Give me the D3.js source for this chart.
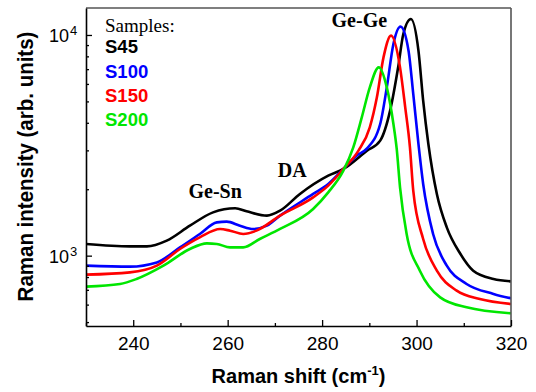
<!DOCTYPE html>
<html>
<head>
<meta charset="utf-8">
<script src="https://cdn.jsdelivr.net/npm/d3@7"></script>
<style>
  body { margin: 0; background: #fff; }
  svg { display: block; }
</style>
</head>
<body>
<div id="chart"></div>
<script>

// Raman spectra (wavenumber in cm-1, intensity in arb. units)
var sampleNames = ["S45", "S100", "S150", "S200"];
var sampleColors = ["#000000", "#0000ff", "#ff0000", "#00e600"];

var shiftS45 = [230, 239.3, 242.9, 247.1, 252.0, 256.9, 261.6, 264.0, 268.3, 271.1, 275.3, 281.3, 284.5, 289.5, 292.3, 294.4, 296.1, 297.2, 298.8, 300.4, 301.4, 302.5, 304.3, 306.4, 309.2, 312.0, 316.3, 320];
var intS45 = [1130, 1102, 1102, 1170, 1367, 1571, 1640, 1588, 1518, 1599, 1904, 2304, 2471, 2990, 3320, 4540, 7134, 10104, 11815, 8489, 5040, 3207, 1904, 1344, 1025, 855, 784, 765];

var shiftS100 = [230, 239.3, 245.0, 249.9, 254.1, 257.7, 259.8, 262.6, 265.4, 268.3, 271.1, 278.1, 281.3, 284.5, 287.3, 289.4, 292.3, 293.7, 295.1, 296.6, 298.3, 299.3, 300.4, 301.4, 303.5, 306.4, 310.6, 316.3, 320];
var intS100 = [901, 892, 932, 1090, 1254, 1415, 1426, 1367, 1321, 1367, 1518, 1904, 2113, 2471, 2839, 3044, 3951, 5789, 9104, 10905, 8489, 5403, 3207, 2113, 1254, 901, 744, 671, 640];

var shiftS150 = [230, 239.3, 245.0, 249.9, 254.1, 258.4, 260.5, 263.3, 266.1, 271.1, 278.1, 281.3, 284.5, 287.7, 290.1, 291.6, 293.0, 294.6, 296.5, 297.6, 298.6, 299.3, 301.4, 304.3, 308.5, 313.4, 320];
var intS150 = [820, 840, 901, 1072, 1210, 1321, 1298, 1254, 1298, 1518, 1837, 2076, 2471, 2991, 3814, 5216, 7914, 9927, 7134, 4699, 3095, 1970, 1190, 855, 694, 636, 604];

var shiftS200 = [230, 237.2, 240.7, 246.4, 252.0, 255.6, 257.7, 260.5, 263.3, 266.8, 271.1, 278.1, 281.3, 284.5, 286.6, 288.4, 290.1, 292.0, 293.7, 295.1, 295.8, 296.5, 297.9, 300.7, 305.0, 310.6, 320];
var intS200 = [724, 744, 784, 901, 1072, 1137, 1130, 1090, 1090, 1190, 1321, 1628, 1935, 2427, 3095, 4233, 5789, 7134, 5789, 3951, 3044, 2040, 1254, 855, 647, 583, 548];

var xTicks = [240, 260, 280, 300, 320];
var xMinorTicks = [230, 250, 270, 290, 310];
var yTicks = [1000, 10000];
var yMinorTicks = [500, 600, 700, 800, 900, 2000, 3000, 4000, 5000, 6000, 7000, 8000, 9000];

var peakLabels = [
    { text: "Ge-Ge", x: 282.0, y: 10900 },
    { text: "Ge-Sn", x: 251.7, y: 1820 },
    { text: "DA", x: 270.6, y: 2280 }
];

var seriesList = [
    { name: sampleNames[0], color: sampleColors[0], xs: shiftS45, ys: intS45 },
    { name: sampleNames[1], color: sampleColors[1], xs: shiftS100, ys: intS100 },
    { name: sampleNames[2], color: sampleColors[2], xs: shiftS150, ys: intS150 },
    { name: sampleNames[3], color: sampleColors[3], xs: shiftS200, ys: intS200 }
];


var svgWidth = 536, svgHeight = 392;
var margin = {top: 8, right: 25, bottom: 66, left: 86};
var width = svgWidth - margin.left - margin.right;
var height = svgHeight - margin.top - margin.bottom;

var sansFont = "'Liberation Sans', Arial, sans-serif";
var serifFont = "'Liberation Serif', 'Times New Roman', serif";

var svg = d3.select("#chart").append("svg")
    .attr("width", svgWidth)
    .attr("height", svgHeight);

var g = svg.append("g")
    .attr("transform", "translate(" + margin.left + "," + margin.top + ")");

var x = d3.scaleLinear().domain([230, 320]).range([0, width]);
var y = d3.scaleLog().domain([480, 13250]).range([height, 0]);

g.append("clipPath")
    .attr("id", "plotClip")
    .append("rect")
    .attr("width", width)
    .attr("height", height);

// spectra
var line = d3.line()
    .x(function(d) { return x(d[0]); })
    .y(function(d) { return y(d[1]); })
    .curve(d3.curveMonotoneX);

seriesList.forEach(function(s) {
    var pts = s.xs.map(function(v, i) { return [v, s.ys[i]]; });
    g.append("path")
        .datum(pts)
        .attr("clip-path", "url(#plotClip)")
        .attr("fill", "none")
        .attr("stroke", s.color)
        .attr("stroke-width", 2.6)
        .attr("stroke-linejoin", "round")
        .attr("d", line);
});

// frame (top and right in grey)
g.append("line")
    .attr("x1", 0).attr("x2", width).attr("y1", 0).attr("y2", 0)
    .attr("stroke", "#555").attr("stroke-width", 1.6);
g.append("line")
    .attr("x1", width).attr("x2", width).attr("y1", 0).attr("y2", height)
    .attr("stroke", "#555").attr("stroke-width", 1.6);

// bottom axis, ticks pointing inward
var xAxis = g.append("g")
    .attr("transform", "translate(0," + height + ")")
    .call(d3.axisBottom(x).tickValues(xTicks).tickSize(-6).tickPadding(11).tickSizeOuter(0));
xAxis.select(".domain").attr("stroke", "#000").attr("stroke-width", 1.6);
xAxis.selectAll(".tick line").attr("stroke-width", 1.3);
xAxis.selectAll("text")
    .attr("dy", "0.71em")
    .style("font-family", sansFont)
    .style("font-size", "19px")
    .attr("fill", "#000");

g.append("g")
    .attr("transform", "translate(0," + height + ")")
    .call(d3.axisBottom(x).tickValues(xMinorTicks).tickSize(-3).tickFormat("").tickSizeOuter(0))
    .call(function(a) { a.select(".domain").remove(); })
    .selectAll(".tick line").attr("stroke-width", 1.3);

// left axis
var yAxis = g.append("g")
    .call(d3.axisLeft(y).tickValues(yTicks).tickSize(-6).tickFormat("").tickSizeOuter(0));
yAxis.select(".domain").attr("stroke", "#000").attr("stroke-width", 1.6);
yAxis.selectAll(".tick line").attr("stroke-width", 1.3);

g.append("g")
    .call(d3.axisLeft(y).tickValues(yMinorTicks).tickSize(-3).tickFormat("").tickSizeOuter(0))
    .call(function(a) { a.select(".domain").remove(); })
    .selectAll(".tick line").attr("stroke-width", 1.3);

// power-of-ten labels
g.selectAll(".ylab")
    .data(yTicks)
    .enter().append("text")
    .attr("class", "ylab")
    .attr("x", -17)
    .attr("y", function(d) { return y(d) + 7.5; })
    .attr("text-anchor", "end")
    .style("font-family", sansFont)
    .style("font-size", "18px")
    .text("10");
g.selectAll(".yexp")
    .data(yTicks)
    .enter().append("text")
    .attr("class", "yexp")
    .attr("x", -16)
    .attr("y", function(d) { return y(d) + 0.5; })
    .style("font-family", sansFont)
    .style("font-size", "13px")
    .text(function(d) { return Math.round(Math.log10(d)); });

// axis titles
var xTitle = svg.append("text")
    .attr("x", margin.left + width / 2)
    .attr("y", 383)
    .attr("text-anchor", "middle")
    .style("font-family", sansFont)
    .style("font-size", "20px")
    .style("font-weight", "bold")
    .text("Raman shift (cm");
xTitle.append("tspan").attr("dy", -8).style("font-size", "13px").text("-1");
xTitle.append("tspan").attr("dy", 8).text(")");

svg.append("text")
    .attr("transform", "translate(33,166.5) scale(1.12,1) rotate(-90)")
    .attr("text-anchor", "middle")
    .style("font-family", sansFont)
    .style("font-size", "20.5px")
    .style("font-weight", "bold")
    .text("Raman intensity (arb. units)");

// legend
var legend = g.append("g").attr("transform", "translate(19,0)");
legend.append("text")
    .attr("y", 24.3)
    .style("font-family", serifFont)
    .style("font-size", "19px")
    .text("Samples:");
legend.selectAll(".leg")
    .data(seriesList)
    .enter().append("text")
    .attr("class", "leg")
    .attr("y", function(d, i) { return 45.3 + i * 24.2; })
    .attr("fill", function(d) { return d.color; })
    .style("font-family", sansFont)
    .style("font-size", "18.5px")
    .style("font-weight", "bold")
    .text(function(d) { return d.name; });

// peak labels
g.selectAll(".peak")
    .data(peakLabels)
    .enter().append("text")
    .attr("class", "peak")
    .attr("x", function(d) { return x(d.x); })
    .attr("y", function(d) { return y(d.y); })
    .style("font-family", serifFont)
    .style("font-size", "20px")
    .style("font-weight", "bold")
    .text(function(d) { return d.text; });

</script>
</body>
</html>
